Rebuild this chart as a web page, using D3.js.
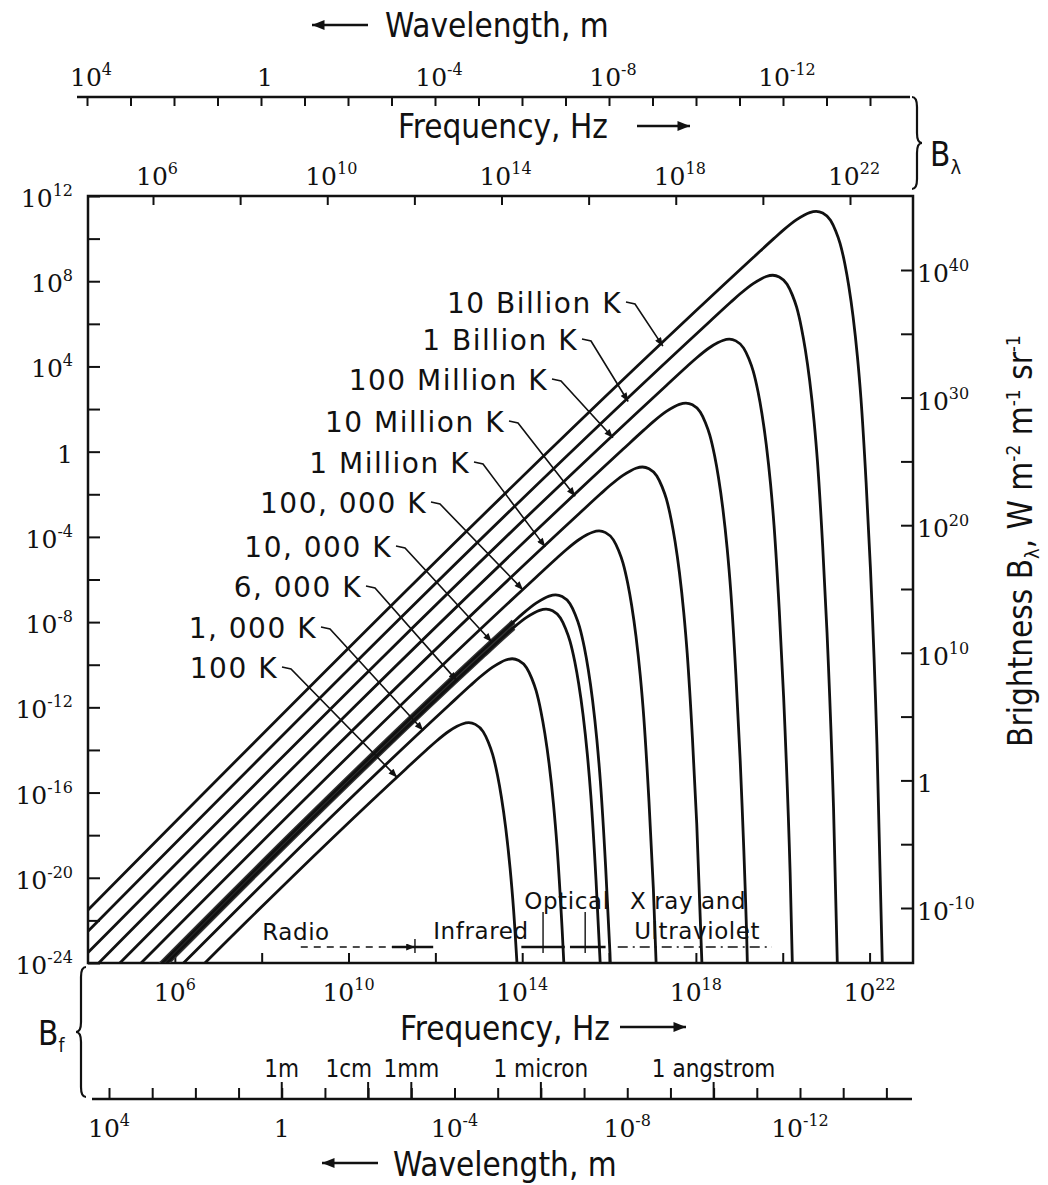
<!DOCTYPE html>
<html>
<head>
<meta charset="utf-8">
<script src="https://cdn.jsdelivr.net/npm/d3@7"></script>
<style>
  body { margin: 0; background: #fff; }
  svg { display: block; }
  .num { font-family: "DejaVu Serif", serif; font-size: 25px; fill: #111; }
  .title { font-family: "DejaVu Sans Condensed", "DejaVu Sans", sans-serif; font-size: 33px; fill: #111; }
  .small { font-family: "DejaVu Sans Condensed", "DejaVu Sans", sans-serif; font-size: 24px; fill: #111; }
  .curveLabel { font-family: "DejaVu Sans", sans-serif; font-size: 28px; letter-spacing: 1.5px; fill: #111; }
  .band { font-family: "DejaVu Sans", sans-serif; font-size: 23px; letter-spacing: 0.6px; fill: #111; }
</style>
</head>
<body>
<div id="chart"></div>
<script>
// ---- data (log10 frequency in Hz, log10 B_f in W m^-2 Hz^-1 sr^-1) ----
const tempLabels = ['100 K', '1, 000 K', '6, 000 K', '10, 000 K', '100, 000 K',
  '1 Million K', '10 Million K', '100 Million K', '1 Billion K', '10 Billion K'];

const curve100K = [[4,-29.51],[11.32,-14.89],[11.80,-13.99],[12.02,-13.59],[12.32,-13.11],[12.50,-12.89],[12.62,-12.78],[12.77,-12.72],[12.92,-12.80],[13.10,-13.14],[13.22,-13.64],[13.32,-14.22],[13.43,-15.18],[13.52,-16.21],[13.62,-17.66],[13.72,-19.54],[13.80,-21.47],[13.92,-25.44]];
const curve1000K = [[4,-28.51],[12.32,-11.89],[12.80,-10.99],[13.02,-10.59],[13.32,-10.11],[13.50,-9.89],[13.62,-9.78],[13.77,-9.72],[13.92,-9.80],[14.10,-10.14],[14.22,-10.64],[14.32,-11.22],[14.43,-12.18],[14.52,-13.21],[14.62,-14.66],[14.72,-16.54],[14.80,-18.47],[14.92,-22.44],[15.02,-26.49]];
const curve6000K = [[4,-27.73],[13.10,-9.56],[13.58,-8.66],[13.80,-8.26],[14.10,-7.78],[14.28,-7.56],[14.40,-7.45],[14.55,-7.39],[14.70,-7.47],[14.88,-7.81],[15.00,-8.31],[15.10,-8.89],[15.21,-9.85],[15.30,-10.88],[15.40,-12.33],[15.50,-14.21],[15.58,-16.14],[15.70,-20.11],[15.80,-24.16],[15.95,-32.40]];
const curve10000K = [[4,-27.51],[13.32,-8.89],[13.80,-7.99],[14.02,-7.59],[14.32,-7.11],[14.50,-6.89],[14.62,-6.78],[14.77,-6.72],[14.92,-6.80],[15.10,-7.14],[15.22,-7.64],[15.32,-8.22],[15.43,-9.18],[15.52,-10.21],[15.62,-11.66],[15.72,-13.54],[15.80,-15.47],[15.92,-19.44],[16.02,-23.49],[16.17,-31.74]];
const curve1e5K = [[4,-26.51],[14.32,-5.89],[14.80,-4.99],[15.02,-4.59],[15.32,-4.11],[15.50,-3.89],[15.62,-3.78],[15.77,-3.72],[15.92,-3.80],[16.10,-4.14],[16.22,-4.64],[16.32,-5.22],[16.43,-6.18],[16.52,-7.21],[16.62,-8.66],[16.72,-10.54],[16.80,-12.47],[16.92,-16.44],[17.02,-20.49],[17.17,-28.74]];
const curve1e6K = [[4,-25.51],[15.32,-2.89],[15.80,-1.99],[16.02,-1.59],[16.32,-1.11],[16.50,-0.89],[16.62,-0.78],[16.77,-0.72],[16.92,-0.80],[17.10,-1.14],[17.22,-1.64],[17.32,-2.22],[17.43,-3.18],[17.52,-4.21],[17.62,-5.66],[17.72,-7.54],[17.80,-9.47],[17.92,-13.44],[18.02,-17.49],[18.17,-25.74]];
const curve1e7K = [[4,-24.51],[16.32,0.11],[16.80,1.01],[17.02,1.41],[17.32,1.89],[17.50,2.11],[17.62,2.22],[17.77,2.28],[17.92,2.20],[18.10,1.86],[18.22,1.36],[18.32,0.78],[18.43,-0.18],[18.52,-1.21],[18.62,-2.66],[18.72,-4.54],[18.80,-6.47],[18.92,-10.44],[19.02,-14.49],[19.17,-22.74],[19.32,-35.30]];
const curve1e8K = [[4,-23.51],[17.32,3.11],[17.80,4.01],[18.02,4.41],[18.32,4.89],[18.50,5.11],[18.62,5.22],[18.77,5.28],[18.92,5.20],[19.10,4.86],[19.22,4.36],[19.32,3.78],[19.43,2.82],[19.52,1.79],[19.62,0.34],[19.72,-1.54],[19.80,-3.47],[19.92,-7.44],[20.02,-11.49],[20.17,-19.74],[20.32,-32.30]];
const curve1e9K = [[4,-22.51],[18.32,6.11],[18.80,7.01],[19.02,7.41],[19.32,7.89],[19.50,8.11],[19.62,8.22],[19.77,8.28],[19.92,8.20],[20.10,7.86],[20.22,7.36],[20.32,6.78],[20.43,5.82],[20.52,4.79],[20.62,3.34],[20.72,1.46],[20.80,-0.47],[20.92,-4.44],[21.02,-8.49],[21.17,-16.74],[21.32,-29.30]];
const curve1e10K = [[4,-21.51],[19.32,9.11],[19.80,10.01],[20.02,10.41],[20.32,10.89],[20.50,11.11],[20.62,11.22],[20.77,11.28],[20.92,11.20],[21.10,10.86],[21.22,10.36],[21.32,9.78],[21.43,8.82],[21.52,7.79],[21.62,6.34],[21.72,4.46],[21.80,2.53],[21.92,-1.44],[22.02,-5.49],[22.17,-13.74],[22.32,-26.30]];
const curves = [curve100K, curve1000K, curve6000K, curve10000K, curve1e5K,
  curve1e6K, curve1e7K, curve1e8K, curve1e9K, curve1e10K];

// tick exponents
const leftTickExp = d3.range(-24, 13, 2);
const leftLabelExp = [12, 8, 4, 0, -4, -8, -12, -16, -20, -24];
const rightTickExp = d3.range(-10, 41, 5);
const rightLabelExp = [40, 30, 20, 10, 0, -10];
const freqTickExp = d3.range(6, 23, 2);
const freqLabelExp = [6, 10, 14, 18, 22];
const waveTickExp = d3.range(4, -15, -1);
const waveLabelExp = [4, 0, -4, -8, -12];
const waveNamedExp = [0, -2, -3, -6, -10];
const waveNamedText = ['1m', '1cm', '1mm', '1 micron', '1 angstrom'];
const bandNames = ['Radio', 'Infrared', 'Optical', 'X ray and', 'Ultraviolet'];
const bandEdgeExp = [11.53, 14.48, 15.45]; // radio|IR, IR|optical, optical|UV

// ---- layout ----
const W = 1048, H = 1185;
const box = { left: 88, right: 913, top: 196, bottom: 963 };
// label text end x, baseline y, log f where the leader meets its curve
const labelLayout = [[278, 678, 11.12], [317, 638, 11.72], [362, 597, 12.50], [392, 557, 13.30],
  [427, 513, 14.02], [470, 473, 14.53], [505, 432, 15.22], [548, 390, 16.09], [578, 350, 16.44], [622, 313, 17.24]];
const bandLabelPos = [[8.79, 940], [13.05, 939], [15.03, 909], [17.82, 909], [18.03, 939]];

const svg = d3.select('#chart').append('svg').attr('width', W).attr('height', H);

const defs = svg.append('defs');
defs.append('clipPath').attr('id', 'plot').append('rect')
  .attr('x', box.left).attr('y', box.top)
  .attr('width', box.right - box.left).attr('height', box.bottom - box.top);
defs.append('marker').attr('id', 'arr').attr('viewBox', '0 0 10 8')
  .attr('refX', 10).attr('refY', 4).attr('markerWidth', 16).attr('markerHeight', 10)
  .attr('markerUnits', 'userSpaceOnUse').attr('orient', 'auto')
  .append('path').attr('d', 'M0,0 L10,4 L0,8 Z').attr('fill', '#111');
defs.append('marker').attr('id', 'arrSmall').attr('viewBox', '0 0 10 8')
  .attr('refX', 10).attr('refY', 4).attr('markerWidth', 10).attr('markerHeight', 7)
  .attr('markerUnits', 'userSpaceOnUse').attr('orient', 'auto')
  .append('path').attr('d', 'M0,0 L10,4 L0,8 Z').attr('fill', '#111');

// ---- scales ----
const xF = d3.scaleLog().domain([1e4, 1e23]).range([box.left, box.right]);
const yF = d3.scaleLog().domain([1e-24, 1e12]).range([box.bottom, box.top]);
const yL = d3.scaleLog().domain([1e-10, 1e40]).range([908, 270]);
const xTopF = d3.scaleLog().domain([1e6, 1e22]).range([153, 850]);
const xTopW = d3.scaleLog().domain([1e4, 1e-12]).range([87, 783]);
const xBotW = d3.scaleLog().domain([1e4, 1e-12]).range([109, 800]);

function expLabel(g, e, x, y, anchor) {
  const t = g.append('text').attr('class', 'num').attr('x', x).attr('y', y).attr('text-anchor', anchor);
  if (e === 0) { t.text('1'); return t; }
  t.append('tspan').text('10');
  t.append('tspan').attr('dy', -11).attr('font-size', 16).text(e < 0 ? '-' + (-e) : e);
  return t;
}

function styleAxis(g) {
  g.select('.domain').remove();
  g.selectAll('text').remove();
  g.selectAll('line').attr('stroke', '#111').attr('stroke-width', 2);
}

function brace(x, y0, y1, dir, w) {
  const ym = (y0 + y1) / 2;
  return `M${x - dir * w},${y0} Q${x},${y0} ${x},${y0 + w * 2} L${x},${ym - w * 2} Q${x},${ym} ${x + dir * w},${ym}` +
    ` Q${x},${ym} ${x},${ym + w * 2} L${x},${y1 - w * 2} Q${x},${y1} ${x - dir * w},${y1}`;
}

function arrowLine(x1, y1, x2, y2, marker) {
  svg.append('line').attr('x1', x1).attr('y1', y1).attr('x2', x2).attr('y2', y2)
    .attr('stroke', '#111').attr('stroke-width', 2.5).attr('marker-end', `url(#${marker || 'arr'})`);
}

// interpolate a curve (in log space) at log f
function logBAt(curve, lf) {
  for (let i = 0; i < curve.length - 1; i++) {
    const a = curve[i], b = curve[i + 1];
    if (lf >= a[0] && lf <= b[0]) return a[1] + (b[1] - a[1]) * (lf - a[0]) / (b[0] - a[0]);
  }
  return curve[curve.length - 1][1];
}

// ---- top axes (B_lambda) ----
svg.append('text').attr('class', 'title').attr('x', 385).attr('y', 37).text('Wavelength, m');
arrowLine(368, 25, 312, 25);
const topW = svg.append('g').attr('transform', 'translate(0,97)')
  .call(d3.axisBottom(xTopW).tickValues(waveTickExp.map(e => 10 ** e)).tickSize(9).tickSizeOuter(0));
styleAxis(topW);
svg.append('line').attr('x1', 77).attr('x2', 910).attr('y1', 97).attr('y2', 97)
  .attr('stroke', '#111').attr('stroke-width', 2.5);
waveLabelExp.forEach(e => expLabel(svg, e, xTopW(10 ** e) + 4, 86, 'middle'));

svg.append('text').attr('class', 'title').attr('x', 398).attr('y', 138).text('Frequency, Hz');
arrowLine(637, 126, 690, 126);
freqLabelExp.forEach(e => expLabel(svg, e, xTopF(10 ** e) + 4, 185, 'middle'));

svg.append('path').attr('d', brace(917, 97, 189, 1, 5))
  .attr('fill', 'none').attr('stroke', '#111').attr('stroke-width', 2.2);
const bl = svg.append('text').attr('class', 'title').attr('x', 930).attr('y', 166).attr('font-size', 30);
bl.append('tspan').text('B');
bl.append('tspan').attr('dy', 8).attr('font-size', 20).text('λ');

// ---- plot box + axis ticks ----
svg.append('rect').attr('x', box.left).attr('y', box.top)
  .attr('width', box.right - box.left).attr('height', box.bottom - box.top)
  .attr('fill', 'none').attr('stroke', '#111').attr('stroke-width', 2.5);

styleAxis(svg.append('g').attr('transform', `translate(0,${box.top})`)
  .call(d3.axisTop(xTopF).tickValues(freqTickExp.map(e => 10 ** e)).tickSize(-9).tickSizeOuter(0)));
styleAxis(svg.append('g').attr('transform', `translate(0,${box.bottom})`)
  .call(d3.axisBottom(xF).tickValues(freqTickExp.map(e => 10 ** e)).tickSize(-10).tickSizeOuter(0)));
styleAxis(svg.append('g').attr('transform', `translate(${box.left},0)`)
  .call(d3.axisLeft(yF).tickValues(leftTickExp.map(e => 10 ** e)).tickSize(-12).tickSizeOuter(0)));
styleAxis(svg.append('g').attr('transform', `translate(${box.right},0)`)
  .call(d3.axisRight(yL).tickValues(rightTickExp.map(e => 10 ** e)).tickSize(-12).tickSizeOuter(0)));

leftLabelExp.forEach(e => expLabel(svg, e, 73, yF(10 ** e) + 11, 'end'));
rightLabelExp.forEach(e => expLabel(svg, e, 917, yL(10 ** e) + 12, 'start'));

// ---- curves ----
const line = d3.line()
  .x(d => xF(10 ** d[0]))
  .y(d => yF(10 ** d[1]))
  .curve(d3.curveMonotoneX);

const plot = svg.append('g').attr('clip-path', 'url(#plot)');

// the sun-like 6000 K / 10,000 K pair is drawn as a heavy band in the radio part
[curve6000K, curve10000K].forEach(c => {
  plot.append('path').attr('d', line(c.filter(d => d[0] <= 13.85)))
    .attr('fill', 'none').attr('stroke', '#333').attr('stroke-width', 5.5);
});

plot.selectAll('path.bb')
  .data(curves)
  .join('path')
  .attr('class', 'bb')
  .attr('d', d => line(d))
  .attr('fill', 'none')
  .attr('stroke', '#111')
  .attr('stroke-width', 2.8);

// ---- curve labels with leaders ----
tempLabels.forEach((name, i) => {
  const [tx, ty, lf] = labelLayout[i];
  svg.append('text').attr('class', 'curveLabel').attr('x', tx).attr('y', ty)
    .attr('text-anchor', 'end').text(name);
  const ex = xF(10 ** lf), ey = yF(10 ** logBAt(curves[i], lf));
  svg.append('path')
    .attr('d', `M${tx + 4},${ty - 11} L${tx + 13},${ty - 9} L${ex},${ey}`)
    .attr('fill', 'none').attr('stroke', '#111').attr('stroke-width', 1.6)
    .attr('marker-end', 'url(#arrSmall)');
});

// ---- spectral bands along the bottom ----
bandNames.forEach((name, i) => {
  svg.append('text').attr('class', 'band')
    .attr('x', xF(10 ** bandLabelPos[i][0])).attr('y', bandLabelPos[i][1])
    .attr('text-anchor', 'middle').text(name);
});
const bandY = 947;
const seg = (a, b, dash) => svg.append('line')
  .attr('x1', xF(10 ** a)).attr('x2', xF(10 ** b)).attr('y1', bandY).attr('y2', bandY)
  .attr('stroke', '#111').attr('stroke-width', dash ? 1.4 : 2.5).attr('stroke-dasharray', dash || null);
seg(8.9, 11.0, '7,6');
arrowLine(xF(10 ** 11.0), bandY, xF(10 ** bandEdgeExp[0]), bandY, 'arrSmall');
seg(bandEdgeExp[0], 11.95);
seg(13.98, 14.98);
seg(15.10, 15.92);
seg(16.2, 19.75, '10,5,2,5');
bandEdgeExp.forEach((e, i) => {
  svg.append('line').attr('x1', xF(10 ** e)).attr('x2', xF(10 ** e))
    .attr('y1', i === 0 ? 939 : 912).attr('y2', 953)
    .attr('stroke', '#111').attr('stroke-width', 1.4);
});

// ---- bottom axes (B_f) ----
freqLabelExp.forEach(e => expLabel(svg, e, xF(10 ** e), 1001, 'middle'));
svg.append('text').attr('class', 'title').attr('x', 400).attr('y', 1040).attr('font-size', 31).text('Frequency, Hz');
arrowLine(620, 1027, 686, 1027);

svg.append('path').attr('d', brace(81, 967, 1097, -1, 5))
  .attr('fill', 'none').attr('stroke', '#111').attr('stroke-width', 2.2);
const bf = svg.append('text').attr('class', 'title').attr('x', 38).attr('y', 1045).attr('font-size', 30);
bf.append('tspan').text('B');
bf.append('tspan').attr('dy', 7).attr('font-size', 19).text('f');

const botW = svg.append('g').attr('transform', 'translate(0,1099)')
  .call(d3.axisTop(xBotW).tickValues(waveTickExp.map(e => 10 ** e)).tickSize(11).tickSizeOuter(0));
styleAxis(botW);
svg.append('line').attr('x1', 92).attr('x2', 912).attr('y1', 1099).attr('y2', 1099)
  .attr('stroke', '#111').attr('stroke-width', 2.5);
waveNamedExp.forEach((e, i) => {
  const x = xBotW(10 ** e);
  svg.append('line').attr('x1', x).attr('x2', x).attr('y1', 1099).attr('y2', 1082)
    .attr('stroke', '#111').attr('stroke-width', 2);
  svg.append('text').attr('class', 'small')
    .attr('x', e === -2 ? x + 4 : x).attr('y', 1077)
    .attr('text-anchor', e === -2 ? 'end' : 'middle').text(waveNamedText[i]);
});
waveLabelExp.forEach(e => expLabel(svg, e, xBotW(10 ** e), 1137, 'middle'));
svg.append('text').attr('class', 'title').attr('x', 393).attr('y', 1176).text('Wavelength, m');
arrowLine(378, 1163, 322, 1163);

// ---- right axis title ----
const rt = svg.append('text').attr('class', 'title')
  .attr('transform', 'translate(1032,541) rotate(-90)')
  .attr('text-anchor', 'middle').attr('font-size', 31);
rt.append('tspan').text('Brightness B');
rt.append('tspan').attr('dy', 7).attr('font-size', 20).text('λ');
rt.append('tspan').attr('dy', -7).text(', W m');
rt.append('tspan').attr('dy', -12).attr('font-size', 19).text('-2');
rt.append('tspan').attr('dy', 12).text(' m');
rt.append('tspan').attr('dy', -12).attr('font-size', 19).text('-1');
rt.append('tspan').attr('dy', 12).text(' sr');
rt.append('tspan').attr('dy', -12).attr('font-size', 19).text('-1');
</script>
</body>
</html>
